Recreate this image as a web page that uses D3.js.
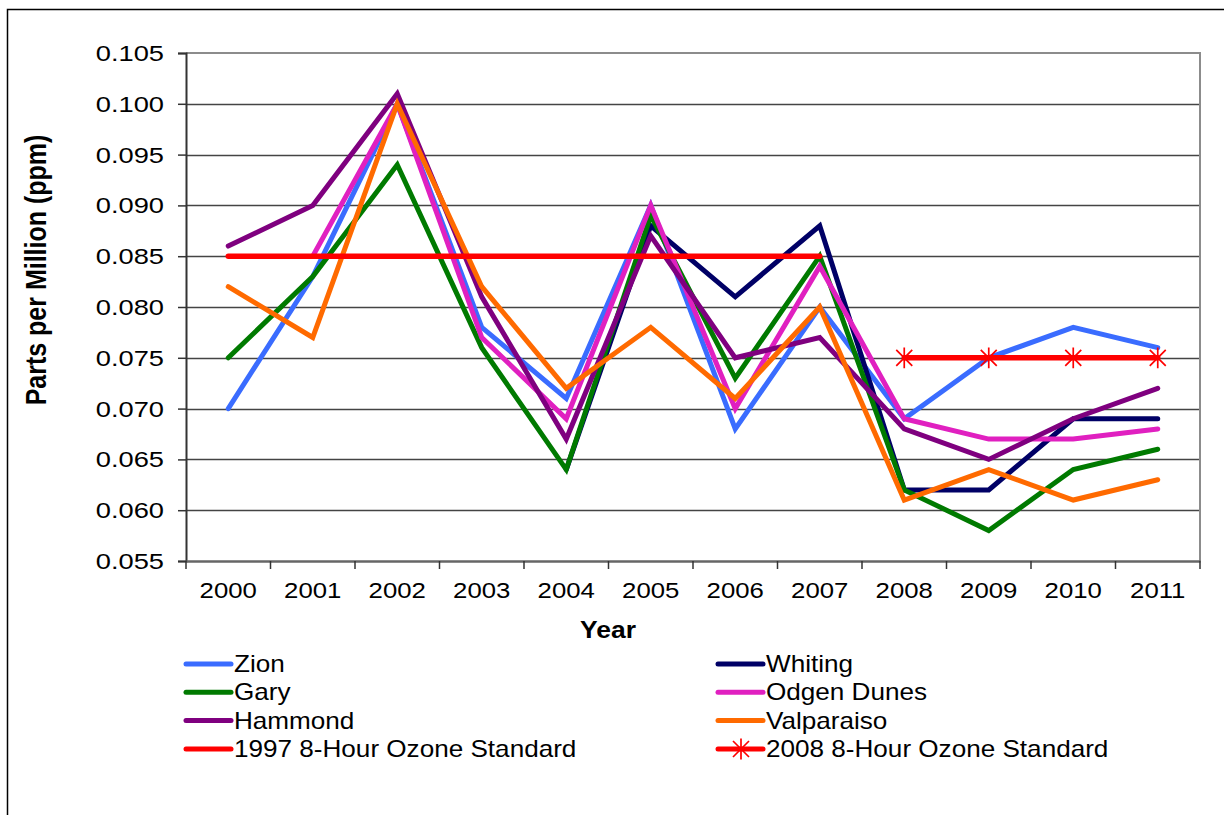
<!DOCTYPE html>
<html>
<head>
<meta charset="utf-8">
<script src="https://cdn.jsdelivr.net/npm/d3@7"></script>
<style>
  html, body { margin: 0; padding: 0; background: #fff; }
  svg { display: block; }
  text { font-family: "Liberation Sans", Arial, sans-serif; fill: #000; }
</style>
</head>
<body>
<svg id="chart" width="1224" height="815"></svg>
<script>
// Ozone design values (ppm) by monitoring site
const years = ["2000","2001","2002","2003","2004","2005","2006","2007","2008","2009","2010","2011"];
const zion       = [0.070,0.083,0.100,0.078,0.071,0.090,0.068,0.080,0.069,0.075,0.078,0.076];
const whiting    = [null,null,null,null,0.064,0.088,0.081,0.088,0.062,0.062,0.069,0.069];
const gary       = [0.075,0.083,0.094,0.076,0.064,0.089,0.073,0.085,0.062,0.058,0.064,0.066];
const odgenDunes = [null,0.085,0.100,0.077,0.069,0.090,0.070,0.084,0.069,0.067,0.067,0.068];
const hammond    = [0.086,0.090,0.101,0.081,0.067,0.087,0.075,0.077,0.068,0.065,0.069,0.072];
const valparaiso = [0.082,0.077,0.100,0.082,0.072,0.078,0.071,0.080,0.061,0.064,0.061,0.063];
const std1997    = [0.085,0.085,0.085,0.085,0.085,0.085,0.085,0.085,null,null,null,null];
const std2008    = [null,null,null,null,null,null,null,null,0.075,0.075,0.075,0.075];
const yTicks     = [0.055,0.060,0.065,0.070,0.075,0.080,0.085,0.090,0.095,0.100,0.105];

const seriesNames  = ["Zion","Whiting","Gary","Odgen Dunes","Hammond","Valparaiso","1997 8-Hour Ozone Standard","2008 8-Hour Ozone Standard"];
const seriesValues = [zion, whiting, gary, odgenDunes, hammond, valparaiso, std1997, std2008];
const seriesColors = ["#3a6cff","#000066","#007a00","#e020c0","#7f007f","#ff6a00","#ff0000","#ff0000"];
const seriesMarker = [false,false,false,false,false,false,false,true];

const svg = d3.select("#chart");

// outer frame (top and left edges)
svg.append("path").attr("d", "M7.5,815 V9.5 H1224").attr("fill","none")
  .attr("stroke","#000").attr("stroke-width",1.5);

const plot = {left: 186, right: 1200, top: 53, bottom: 561};
const xBand = d3.scaleBand().domain(years).range([plot.left, plot.right]);
const x = d => xBand(d) + xBand.bandwidth() / 2;
const y = d3.scaleLinear().domain([0.055, 0.105]).range([plot.bottom, plot.top]);

// text drawn with a horizontal stretch factor sx
function stretchedText(g, tx, ty, txt, size, sx, anchor, weight) {
  return g.append("text")
    .attr("transform", `translate(${tx},${ty}) scale(${sx},1)`)
    .attr("text-anchor", anchor)
    .attr("font-size", size)
    .attr("font-weight", weight || "normal")
    .text(txt);
}

// gridlines
const grid = svg.append("g");
grid.selectAll("line").data(yTicks.slice(1, -1)).join("line")
  .attr("x1", plot.left).attr("x2", plot.right)
  .attr("y1", d => Math.round(y(d)) + 0.5).attr("y2", d => Math.round(y(d)) + 0.5)
  .attr("stroke", "#444").attr("stroke-width", 1.5);

// plot frame: top and right in gray
svg.append("path")
  .attr("d", `M${plot.left},${plot.top} H${plot.right} V${plot.bottom}`)
  .attr("fill","none").attr("stroke","#8c8c8c").attr("stroke-width",2);

// y axis
const yAxis = svg.append("g").attr("transform", `translate(${plot.left},0)`)
  .call(d3.axisLeft(y).tickValues(yTicks).tickSize(8).tickFormat(""));
yAxis.select(".domain").attr("stroke","#333").attr("stroke-width",2);
yAxis.selectAll(".tick line").attr("stroke","#333").attr("stroke-width",1.5);
const yLab = svg.append("g");
yTicks.forEach(v => stretchedText(yLab, 164, y(v) + 8, d3.format(".3f")(v), 22, 1.24, "end"));

// x axis: ticks between categories
const xAxisG = svg.append("g").attr("transform", `translate(0,${plot.bottom})`);
xAxisG.call(d3.axisBottom(xBand).tickSize(0).tickFormat(""));
xAxisG.select(".domain").attr("stroke","#666").attr("stroke-width",2.5);
const edges = years.map(d => xBand(d)).concat([plot.right]);
xAxisG.selectAll("line.edge").data(edges).join("line").attr("class","edge")
  .attr("x1", d => d).attr("x2", d => d).attr("y1", 0).attr("y2", 8)
  .attr("stroke","#333").attr("stroke-width",1.5);
const xLab = svg.append("g");
years.forEach(yr => stretchedText(xLab, x(yr), 598, yr, 23, 1.12, "middle"));

// axis titles
stretchedText(svg, 608, 638, "Year", 23, 1.15, "middle", "bold");
svg.append("text")
  .attr("transform", "translate(46,270) scale(1.18,1) rotate(-90)")
  .attr("text-anchor","middle").attr("font-size",25).attr("font-weight","bold")
  .text("Parts per Million (ppm)");

// series lines
const line = d3.line()
  .defined(d => d.v !== null)
  .x(d => x(d.year)).y(d => y(d.v));

const starPath = r => `M${-r},${-r}L${r},${r}M${-r},${r}L${r},${-r}M0,${-r*1.3}L0,${r*1.3}`;

seriesValues.forEach((vals, i) => {
  const pts = years.map((yr, j) => ({year: yr, v: vals[j]}));
  svg.append("path").datum(pts)
    .attr("d", line)
    .attr("fill","none")
    .attr("stroke", seriesColors[i])
    .attr("stroke-width", i >= 6 ? 5.5 : 5)
    .attr("stroke-linejoin","miter")
    .attr("stroke-linecap","round");
  if (seriesMarker[i]) {
    svg.append("g").selectAll("path").data(pts.filter(d => d.v !== null)).join("path")
      .attr("transform", d => `translate(${x(d.year)},${y(d.v)})`)
      .attr("d", starPath(8))
      .attr("fill","none").attr("stroke", seriesColors[i]).attr("stroke-width",1.7);
  }
});

// legend: two columns, row-major
const legend = svg.append("g");
const colX = [186, 718];
const rowY = [664, 692.3, 720.6, 749];
seriesNames.forEach((name, i) => {
  const cx = colX[i % 2], cy = rowY[Math.floor(i / 2)];
  legend.append("line")
    .attr("x1", cx).attr("x2", cx + 45).attr("y1", cy).attr("y2", cy)
    .attr("stroke", seriesColors[i]).attr("stroke-width", 5).attr("stroke-linecap","round");
  if (seriesMarker[i]) {
    legend.append("path").attr("transform", `translate(${cx + 23},${cy})`)
      .attr("d", starPath(8)).attr("fill","none")
      .attr("stroke", seriesColors[i]).attr("stroke-width",1.7);
  }
  stretchedText(legend, cx + 48, cy + 8, name, 23, 1.135, "start");
});
</script>
</body>
</html>
